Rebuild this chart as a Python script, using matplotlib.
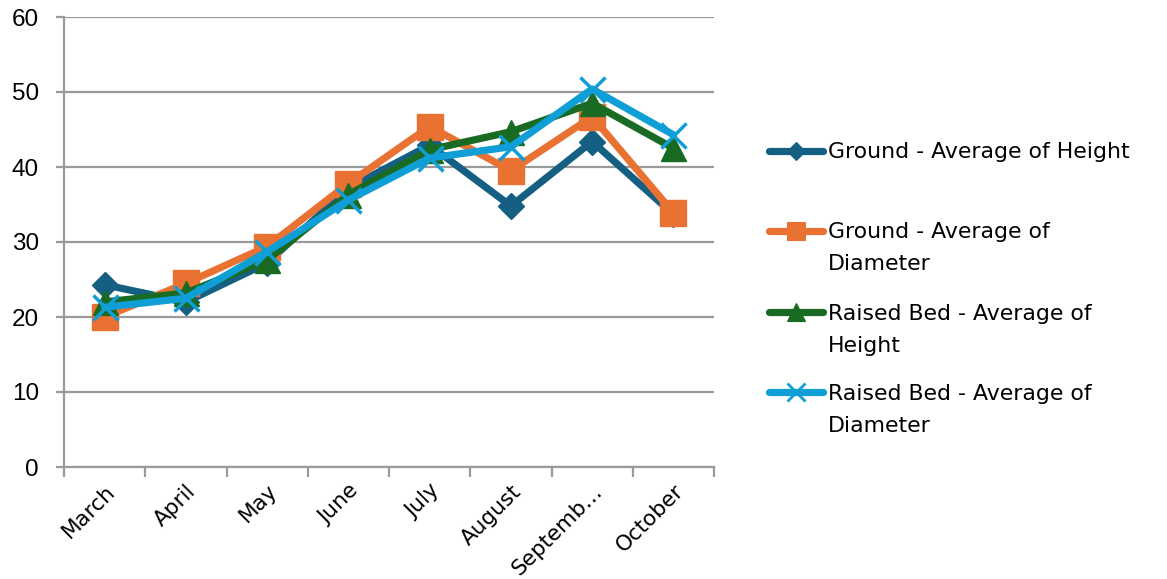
import matplotlib
matplotlib.use("Agg")
import matplotlib.pyplot as plt
from matplotlib.lines import Line2D

months = ["March", "April", "May", "June", "July", "August", "Septemb…", "October"]
ground_height = [24.3, 22.0, 27.2, 37.2, 42.9, 34.8, 43.4, 33.7]
ground_diameter = [20.0, 24.5, 29.4, 37.8, 45.4, 39.5, 46.7, 33.9]
raised_height = [22.0, 23.2, 27.6, 36.3, 42.3, 44.7, 48.5, 42.5]
raised_diameter = [21.3, 22.5, 28.7, 35.6, 41.2, 42.7, 50.4, 44.3]

series = [
    ("Ground - Average of Height", ground_height, "#156082", "D", 13, {}),
    ("Ground - Average of\nDiameter", ground_diameter, "#E97132", "s", 19, {}),
    ("Raised Bed - Average of\nHeight", raised_height, "#196B24", "^", 18, {}),
    ("Raised Bed - Average of\nDiameter", raised_diameter, "#0F9ED5", "x", 18, {"mew": 2.5}),
]

plt.rcParams['font.family'] = ['DejaVu Sans']

W, H = 1167, 579
fig = plt.figure(figsize=(W / 100, H / 100), dpi=100)
ax = fig.add_axes([64 / W, 1 - 467 / H, 650 / W, 450 / H])

x = list(range(len(months)))
for label, vals, color, marker, ms, kw in series:
    ax.plot(x, vals, color=color, lw=5.2, marker=marker, ms=ms,
            mec=color, mfc=color, solid_capstyle='round', solid_joinstyle='round', **kw)

ax.set_xlim(-0.5, len(months) - 0.5)
ax.set_ylim(0, 60)
ax.set_yticks(range(0, 61, 10))
ax.set_yticklabels([str(v) for v in range(0, 61, 10)], family=['Liberation Sans', 'DejaVu Sans'])
ax.yaxis.grid(True, color="#9A9A9A", lw=1.6)
ax.set_axisbelow(True)
for s in ["top", "right"]:
    ax.spines[s].set_visible(False)
for s in ["left", "bottom"]:
    ax.spines[s].set_color("#9A9A9A")
    ax.spines[s].set_linewidth(1.6)

ax.set_xticks([i - 0.5 for i in range(len(months) + 1)], minor=False)
ax.set_xticklabels([])
ax.set_xticks(x, minor=True)
ax.set_xticklabels(months, minor=True, rotation=45, ha="right", va="top",
                   rotation_mode="anchor", fontsize=15.5)
ax.tick_params(axis="x", which="major", length=7, width=1.6, color="#9A9A9A")
ax.tick_params(axis="x", which="minor", length=0, pad=10)
ax.tick_params(axis="y", length=6, width=1.6, color="#9A9A9A", labelsize=17.5, pad=12)

# legend drawn manually
ys = [151, 231, 312, 392]
for (label, vals, color, marker, ms, kw), yp in zip(series, ys):
    yf = 1 - yp / H
    fig.add_artist(Line2D([769 / W, 823 / W], [yf, yf], transform=fig.transFigure,
                          color=color, lw=5.2, solid_capstyle='round'))
    fig.add_artist(Line2D([796 / W], [yf], transform=fig.transFigure, color=color,
                          marker=marker, ms=ms * 0.7, mec=color, mfc=color,
                          mew=kw.get("mew", 1) * 0.8))
    for k, line in enumerate(label.split("\n")):
        fig.text(828 / W, 1 - (yp + 7.5 + 32 * k) / H, line, fontsize=15.8,
                 va="baseline", ha="left")

fig.savefig("out.png", dpi=100)
